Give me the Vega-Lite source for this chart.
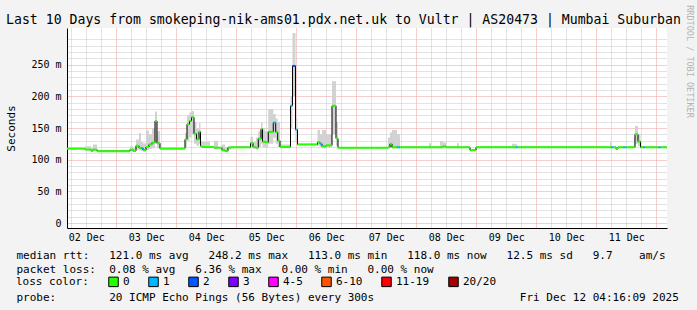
{
  "$schema": "https://vega.github.io/schema/vega-lite/v6.json",
  "width": 600,
  "height": 200,
  "autosize": {"type": "none"},
  "padding": {"left": 67, "top": 28, "right": 30, "bottom": 82},
  "background": "#f3f3f3",
  "title": {
    "text": "Last 10 Days from smokeping-nik-ams01.pdx.net.uk to Vultr | AS20473 | Mumbai Suburban",
    "anchor": "start", "frame": "group", "dx": -61, "offset": -32, "baseline": "alphabetic",
    "font": "DejaVu Sans Mono", "fontSize": 13.2, "fontWeight": "normal", "color": "black"
  },
  "data": {
    "format": {"parse": {"t": "date"}},
    "values": [
      {"t": "2025-12-02T04:16", "med": 117.5, "lo": 116.5, "hi": 118.5, "loss": "0"},
      {"t": "2025-12-02T11:28", "med": 116, "lo": 115, "hi": 121, "loss": "0"},
      {"t": "2025-12-02T13:52", "med": 114, "lo": 113, "hi": 119, "loss": "0"},
      {"t": "2025-12-02T14:40", "med": 116, "lo": 114, "hi": 124, "loss": "0"},
      {"t": "2025-12-02T16:16", "med": 113.4, "lo": 112.5, "hi": 114.5, "loss": "0"},
      {"t": "2025-12-03T05:28", "med": 116, "lo": 113, "hi": 121, "loss": "0"},
      {"t": "2025-12-03T06:40", "med": 114, "lo": 112.5, "hi": 118, "loss": "0"},
      {"t": "2025-12-03T07:52", "med": 122, "lo": 116, "hi": 132, "loss": "0"},
      {"t": "2025-12-03T09:04", "med": 118.5, "lo": 115, "hi": 142, "loss": "0"},
      {"t": "2025-12-03T09:52", "med": 118.5, "lo": 114, "hi": 128, "loss": "1"},
      {"t": "2025-12-03T10:40", "med": 115, "lo": 113, "hi": 126, "loss": "0"},
      {"t": "2025-12-03T11:52", "med": 120, "lo": 115, "hi": 146, "loss": "0"},
      {"t": "2025-12-03T13:04", "med": 124, "lo": 117, "hi": 140, "loss": "0"},
      {"t": "2025-12-03T14:16", "med": 127, "lo": 118, "hi": 150, "loss": "0"},
      {"t": "2025-12-03T15:28", "med": 161, "lo": 125, "hi": 176, "loss": "0"},
      {"t": "2025-12-03T16:16", "med": 126, "lo": 118, "hi": 145, "loss": "0"},
      {"t": "2025-12-03T17:28", "med": 117.5, "lo": 116.5, "hi": 118.5, "loss": "0"},
      {"t": "2025-12-04T03:28", "med": 132, "lo": 120, "hi": 142, "loss": "0"},
      {"t": "2025-12-04T04:16", "med": 156, "lo": 130, "hi": 170, "loss": "0"},
      {"t": "2025-12-04T05:16", "med": 161, "lo": 135, "hi": 175, "loss": "0"},
      {"t": "2025-12-04T06:04", "med": 167, "lo": 140, "hi": 177, "loss": "0"},
      {"t": "2025-12-04T07:04", "med": 141, "lo": 125, "hi": 160, "loss": "0"},
      {"t": "2025-12-04T08:04", "med": 132, "lo": 122, "hi": 150, "loss": "0"},
      {"t": "2025-12-04T09:04", "med": 144, "lo": 125, "hi": 158, "loss": "0"},
      {"t": "2025-12-04T09:40", "med": 121.5, "lo": 118, "hi": 130, "loss": "0"},
      {"t": "2025-12-04T10:16", "med": 120, "lo": 118, "hi": 128, "loss": "0"},
      {"t": "2025-12-04T13:28", "med": 120, "lo": 119, "hi": 121, "loss": "0"},
      {"t": "2025-12-04T15:04", "med": 119, "lo": 117, "hi": 130, "loss": "0"},
      {"t": "2025-12-04T16:40", "med": 119, "lo": 118, "hi": 120, "loss": "0"},
      {"t": "2025-12-04T18:16", "med": 115, "lo": 113, "hi": 124, "loss": "0"},
      {"t": "2025-12-04T19:28", "med": 113.4, "lo": 112, "hi": 120, "loss": "0"},
      {"t": "2025-12-04T20:40", "med": 119, "lo": 117, "hi": 122, "loss": "0"},
      {"t": "2025-12-04T21:52", "med": 119.5, "lo": 118.5, "hi": 120.5, "loss": "0"},
      {"t": "2025-12-05T05:40", "med": 126, "lo": 119, "hi": 136, "loss": "0"},
      {"t": "2025-12-05T06:40", "med": 120, "lo": 117, "hi": 128, "loss": "0"},
      {"t": "2025-12-05T07:52", "med": 119, "lo": 116, "hi": 135, "loss": "0"},
      {"t": "2025-12-05T08:47", "med": 133, "lo": 120, "hi": 145, "loss": "0"},
      {"t": "2025-12-05T09:52", "med": 148.5, "lo": 125, "hi": 158, "loss": "0"},
      {"t": "2025-12-05T10:28", "med": 128.5, "lo": 120, "hi": 150, "loss": "0"},
      {"t": "2025-12-05T11:28", "med": 127.5, "lo": 119, "hi": 145, "loss": "0"},
      {"t": "2025-12-05T12:47", "med": 144, "lo": 125, "hi": 180, "loss": "0"},
      {"t": "2025-12-05T14:47", "med": 158.5, "lo": 135, "hi": 172, "loss": "1"},
      {"t": "2025-12-05T15:45", "med": 143.5, "lo": 125, "hi": 165, "loss": "0"},
      {"t": "2025-12-05T16:33", "med": 130, "lo": 120, "hi": 160, "loss": "0"},
      {"t": "2025-12-05T17:28", "med": 120, "lo": 118, "hi": 124, "loss": "0"},
      {"t": "2025-12-05T21:40", "med": 185, "lo": 150, "hi": 200, "loss": "1"},
      {"t": "2025-12-05T22:28", "med": 248, "lo": 200, "hi": 300, "loss": "2"},
      {"t": "2025-12-05T23:40", "med": 147.5, "lo": 128, "hi": 165, "loss": "1"},
      {"t": "2025-12-06T00:28", "med": 124, "lo": 123, "hi": 125, "loss": "0"},
      {"t": "2025-12-06T08:28", "med": 127.5, "lo": 121, "hi": 147, "loss": "0"},
      {"t": "2025-12-06T09:28", "med": 125, "lo": 120, "hi": 140, "loss": "1"},
      {"t": "2025-12-06T10:16", "med": 121, "lo": 118, "hi": 147, "loss": "0"},
      {"t": "2025-12-06T11:52", "med": 122.5, "lo": 119, "hi": 140, "loss": "0"},
      {"t": "2025-12-06T14:16", "med": 185, "lo": 140, "hi": 224, "loss": "0"},
      {"t": "2025-12-06T15:52", "med": 133.5, "lo": 122, "hi": 160, "loss": "0"},
      {"t": "2025-12-06T16:40", "med": 119, "lo": 118, "hi": 120, "loss": "0"},
      {"t": "2025-12-07T12:40", "med": 119.5, "lo": 118, "hi": 135, "loss": "0"},
      {"t": "2025-12-07T13:28", "med": 125, "lo": 119, "hi": 143, "loss": "0"},
      {"t": "2025-12-07T14:16", "med": 119.5, "lo": 118, "hi": 147, "loss": "0"},
      {"t": "2025-12-07T16:16", "med": 119.5, "lo": 118, "hi": 140, "loss": "1"},
      {"t": "2025-12-07T17:28", "med": 119.5, "lo": 118.5, "hi": 120.5, "loss": "0"},
      {"t": "2025-12-08T05:04", "med": 119.5, "lo": 118, "hi": 126, "loss": "0"},
      {"t": "2025-12-08T05:52", "med": 119.5, "lo": 118.5, "hi": 120.5, "loss": "0"},
      {"t": "2025-12-08T09:28", "med": 119.5, "lo": 118, "hi": 129, "loss": "0"},
      {"t": "2025-12-08T10:40", "med": 121, "lo": 118, "hi": 127, "loss": "0"},
      {"t": "2025-12-08T11:52", "med": 119.5, "lo": 118.5, "hi": 120.5, "loss": "0"},
      {"t": "2025-12-08T16:16", "med": 119.5, "lo": 118, "hi": 126, "loss": "0"},
      {"t": "2025-12-08T17:04", "med": 119.5, "lo": 118.5, "hi": 120.5, "loss": "0"},
      {"t": "2025-12-08T21:28", "med": 115, "lo": 114, "hi": 116, "loss": "0"},
      {"t": "2025-12-08T23:52", "med": 119.5, "lo": 118.5, "hi": 120.5, "loss": "0"},
      {"t": "2025-12-09T14:16", "med": 119.5, "lo": 118, "hi": 125, "loss": "0"},
      {"t": "2025-12-09T15:52", "med": 119.5, "lo": 118, "hi": 124, "loss": "1"},
      {"t": "2025-12-09T16:28", "med": 119.5, "lo": 118.5, "hi": 120.5, "loss": "0"},
      {"t": "2025-12-11T05:28", "med": 119.5, "lo": 118, "hi": 128, "loss": "0"},
      {"t": "2025-12-11T06:04", "med": 119.5, "lo": 118, "hi": 121, "loss": "1"},
      {"t": "2025-12-11T06:40", "med": 119.5, "lo": 118.5, "hi": 120.5, "loss": "0"},
      {"t": "2025-12-11T07:52", "med": 117, "lo": 116, "hi": 118, "loss": "0"},
      {"t": "2025-12-11T08:40", "med": 119.5, "lo": 118.5, "hi": 120.5, "loss": "0"},
      {"t": "2025-12-11T10:52", "med": 119.5, "lo": 118.5, "hi": 120.5, "loss": "1"},
      {"t": "2025-12-11T11:40", "med": 119.5, "lo": 118.5, "hi": 120.5, "loss": "0"},
      {"t": "2025-12-11T15:04", "med": 119.5, "lo": 118, "hi": 135, "loss": "0"},
      {"t": "2025-12-11T15:28", "med": 140, "lo": 125, "hi": 153, "loss": "0"},
      {"t": "2025-12-11T16:40", "med": 128.5, "lo": 121, "hi": 140, "loss": "0"},
      {"t": "2025-12-11T17:40", "med": 119.5, "lo": 118.5, "hi": 120.5, "loss": "0"},
      {"t": "2025-12-11T18:40", "med": 119.5, "lo": 118.5, "hi": 120.5, "loss": "1"},
      {"t": "2025-12-11T19:28", "med": 119.5, "lo": 118.5, "hi": 120.5, "loss": "0"},
      {"t": "2025-12-12T00:52", "med": 119.5, "lo": 118.5, "hi": 120.5, "loss": "1"},
      {"t": "2025-12-12T01:40", "med": 119.5, "lo": 118.5, "hi": 120.5, "loss": "0"},
      {"t": "2025-12-12T04:16", "med": 118, "lo": 117, "hi": 119, "loss": "0"}
    ]
  },
  "layer": [
    {
      "mark": {"type": "area", "interpolate": "step-after", "color": "#d2d2d2", "clip": true},
      "encoding": {
        "x": {"field": "t", "type": "temporal",
          "scale": {"domain": [{"year": 2025, "month": 12, "date": 2, "hours": 4, "minutes": 16, "seconds": 9}, {"year": 2025, "month": 12, "date": 12, "hours": 4, "minutes": 16, "seconds": 9}]},
          "axis": {
            "orient": "bottom",
            "tickCount": 40,
            "grid": true,
            "gridColor": {"condition": {"test": "hours(datum.value) == 0", "value": "#eb9a9a"}, "value": "#c6c6c6"},
            "gridDash": [1, 1],
            "gridWidth": 1,
            "ticks": false,
            "tickSize": 0,
            "domain": true,
            "domainColor": "black",
            "domainWidth": 1,
            "labelExpr": "hours(datum.value) == 12 ? timeFormat(datum.value, '%d %b') : ''",
            "labelFont": "DejaVu Sans Mono",
            "labelFontSize": 10,
            "labelColor": "black",
            "labelPadding": 4,
            "labelFlush": false,
            "labelOverlap": false,
            "labelBound": false,
            "title": [
              "median rtt:\u00a0\u00a0\u00a0121.0 ms avg\u00a0\u00a0\u00a0248.2 ms max\u00a0\u00a0\u00a0113.0 ms min\u00a0\u00a0\u00a0118.0 ms now\u00a0\u00a0\u00a012.5 ms sd\u00a0\u00a0\u00a09.7\u00a0\u00a0\u00a0\u00a0am/s",
              "packet loss:\u00a0\u00a00.08 % avg\u00a0\u00a0\u00a06.36 % max\u00a0\u00a0\u00a00.00 % min\u00a0\u00a0\u00a00.00 % now",
              "\u2800",
              "probe:\u00a0\u00a0\u00a0\u00a0\u00a0\u00a0\u00a0\u00a020 ICMP Echo Pings (56 Bytes) every 300s\u00a0\u00a0\u00a0\u00a0\u00a0\u00a0\u00a0\u00a0\u00a0\u00a0\u00a0\u00a0\u00a0\u00a0\u00a0\u00a0\u00a0\u00a0\u00a0\u00a0\u00a0\u00a0Fri Dec 12 04:16:09 2025"
            ],
            "titleFont": "DejaVu Sans Mono",
            "titleFontSize": 11,
            "titleFontWeight": "normal",
            "titleColor": "black",
            "titleX": -51,
            "titleY": 30,
            "titleAlign": "left",
            "titleAnchor": "start",
            "titleBaseline": "alphabetic",
            "titleLineHeight": 14
          }
        },
        "y": {"field": "lo", "type": "quantitative", "axis": null, "scale": {"domain": [0, 300], "nice": false}},
        "y2": {"field": "hi"}
      }
    },
    {
      "mark": {"type": "line", "interpolate": "step-after", "color": "black", "strokeWidth": 1, "clip": true},
      "encoding": {
        "x": {"field": "t", "type": "temporal"},
        "y": {"field": "med", "type": "quantitative",
          "scale": {"domain": [0, 300], "nice": false},
          "axis": {
            "orient": "left",
            "values": [0, 10, 20, 30, 40, 50, 60, 70, 80, 90, 100, 110, 120, 130, 140, 150, 160, 170, 180, 190, 200, 210, 220, 230, 240, 250, 260, 270, 280, 290],
            "grid": true,
            "gridColor": {"condition": {"test": "datum.value % 50 == 0", "value": "#eb9a9a"}, "value": "#c6c6c6"},
            "gridDash": [1, 1],
            "gridWidth": 1,
            "ticks": false,
            "tickSize": 0,
            "domain": true,
            "domainColor": "black",
            "domainWidth": 1,
            "labelExpr": "datum.value == 0 ? '0\u00a0\u00a0' : (datum.value % 50 == 0 ? datum.value + ' m' : '')",
            "labelFont": "DejaVu Sans Mono",
            "labelFontSize": 10,
            "labelColor": "black",
            "labelPadding": 6,
            "labelOverlap": false,
            "labelBound": false,
            "title": "Seconds",
            "titleFont": "DejaVu Sans Mono",
            "titleFontSize": 11,
            "titleFontWeight": "normal",
            "titleColor": "black",
            "titleX": -56,
            "titleY": 100,
            "titleAngle": 270,
            "titleAlign": "center",
            "titleBaseline": "middle"
          }
        }
      }
    },
    {
      "transform": [
        {"window": [{"op": "lead", "field": "t", "as": "t2"}]},
        {"filter": "datum.t2 != null"}
      ],
      "mark": {"type": "bar", "orient": "horizontal", "size": 2, "clip": true},
      "encoding": {
        "x": {"field": "t", "type": "temporal"},
        "x2": {"field": "t2"},
        "y": {"field": "med", "type": "quantitative",
          "scale": {"domain": [0, 300], "nice": false},
          "axis": {
            "orient": "right",
            "labels": false,
            "ticks": false,
            "domain": false,
            "grid": false,
            "title": "RRDTOOL / TOBI OETIKER",
            "titleAngle": 90,
            "titleX": 22,
            "titleY": 33,
            "titleAlign": "center",
            "titleBaseline": "middle",
            "titleColor": "#b4b4b4",
            "titleFont": "DejaVu Sans Mono",
            "titleFontSize": 8.5,
            "titleFontWeight": "normal"
          }
        },
        "color": {
          "field": "loss", "type": "nominal",
          "scale": {
            "domain": ["0", "1", "2", "3", "4-5", "6-10", "11-19", "20/20"],
            "range": ["#26ff00", "#00b8ff", "#0059ff", "#7e00ff", "#ff00ff", "#ff5500", "#ff0000", "#a00000"]
          },
          "legend": {
            "title": "loss color:",
            "orient": "none",
            "legendX": -51,
            "legendY": 248,
            "direction": "horizontal",
            "columns": 8,
            "titleOrient": "left",
            "titlePadding": 19,
            "titleFont": "DejaVu Sans Mono",
            "titleFontSize": 11,
            "titleFontWeight": "normal",
            "titleColor": "black",
            "labelFont": "DejaVu Sans Mono",
            "labelFontSize": 11,
            "labelColor": "black",
            "labelOffset": 4,
            "columnPadding": 16,
            "symbolType": "square",
            "symbolSize": 90,
            "symbolStrokeColor": "black",
            "symbolStrokeWidth": 1,
            "symbolOpacity": 1,
            "padding": 0,
            "offset": 0,
            "encode": {"symbols": {"update": {"stroke": {"value": "black"}, "strokeWidth": {"value": 1}}}}
          }
        }
      }
    }
  ],
  "resolve": {"axis": {"y": "independent"}},
  "config": {
    "view": {"fill": "white", "stroke": null},
    "axis": {"zindex": 0}
  }
}
